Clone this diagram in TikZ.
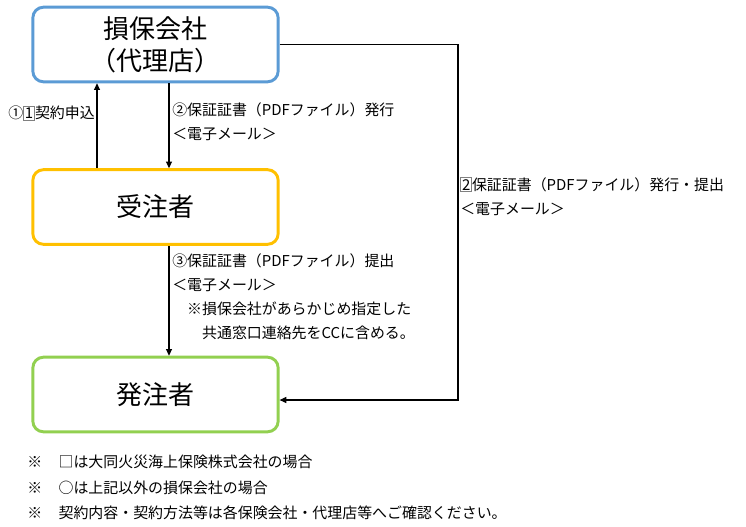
\documentclass[tikz,border=0pt]{standalone}
\usepackage{fontspec}
\setmainfont{Noto Sans CJK JP}
\usepackage{tikz}
\usetikzlibrary{arrows.meta,positioning,calc}
\definecolor{boxBlue}{HTML}{5B9BD5}
\definecolor{boxYellow}{HTML}{FFC000}
\definecolor{boxGreen}{HTML}{92D050}
\newcommand{\sqnum}[1]{{\setlength{\fboxsep}{0.8pt}\setlength{\fboxrule}{0.5pt}\fcolorbox{gray}{white}{#1}}}

\begin{document}
\begin{tikzpicture}[
    x=0.75pt, y=-0.75pt,
    party/.style={draw, rounded corners=8pt, line width=2.2pt, fill=white, minimum width=184pt, minimum height=56pt, align=center, font=\fontsize{19.5}{24}\selectfont},
    flow/.style={draw, -{Triangle[length=5pt,width=4.5pt]}, line width=0.8pt},
    note/.style={align=left, inner sep=0pt, font=\fontsize{11.2}{18}\selectfont},
]
    \useasboundingbox (0,0) rectangle (746,526);

    % Parties
    \node[party, draw=boxBlue] (insurer) at (155.5,44.5) {損保会社\\（代理店）};
    \node[party, draw=boxYellow] (contractor) at (155.5,207) {受注者};
    \node[party, draw=boxGreen] (client) at (155.5,394.5) {発注者};

    % Guide coordinates
    \coordinate (left) at (97,0);
    \coordinate (mid) at (169,0);
    \coordinate (right) at (458,0);
    \coordinate (back) at (0,400);

    % Connections
    \draw[flow] (contractor.north -| left) -- (insurer.south -| left);
    \draw[flow] (insurer.south -| mid) -- (contractor.north -| mid);
    \draw[flow] (contractor.south -| mid) -- (client.north -| mid);
    \draw[flow] (insurer.east) -- (insurer.east -| right) |- (client.east |- back);

    % Labels
    \node[note, anchor=east] (apply) at (95,113) {①\sqnum{1}契約申込};
    \node[note, anchor=north west] (issue) at (172,102) {②保証証書（PDFファイル）発行\\＜電子メール＞};
    \node[note, anchor=north west] (submit) at (172,253) {③保証証書（PDFファイル）提出\\＜電子メール＞\\\hspace{1em}※損保会社があらかじめ指定した\\\hspace{2em}共通窓口連絡先をCCに含める。};
    \node[note, anchor=north west] (direct) at (460,177) {\sqnum{2}保証証書（PDFファイル）発行・提出\\＜電子メール＞};

    % Footnotes
    \node[note, anchor=north west, font=\fontsize{11.2}{19}\selectfont] (remarks) at (27,455) {※\hspace{1.1em}□は大同火災海上保険株式会社の場合\\※\hspace{1.1em}○は上記以外の損保会社の場合\\※\hspace{1.1em}契約内容・契約方法等は各保険会社・代理店等へご確認ください。};
\end{tikzpicture}
\end{document}
